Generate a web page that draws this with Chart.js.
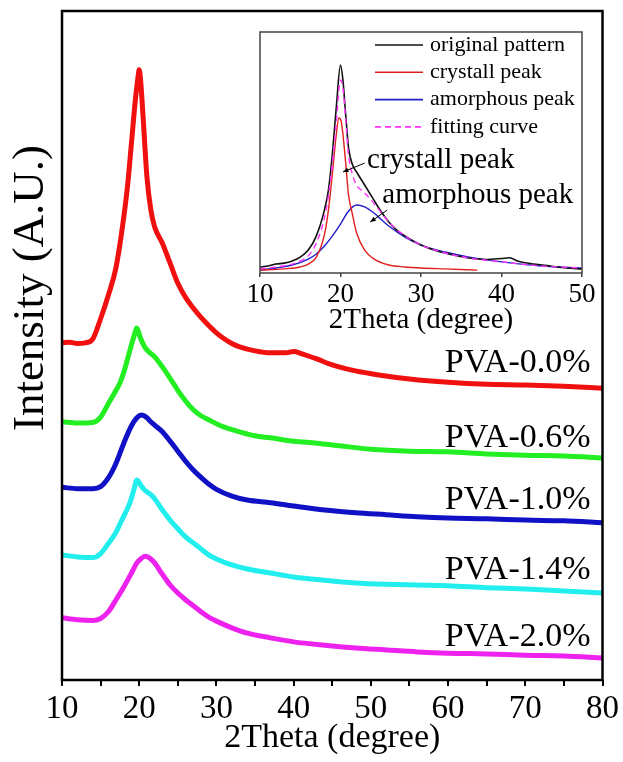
<!DOCTYPE html>
<html>
<head>
<meta charset="utf-8">
<script src="https://cdn.jsdelivr.net/npm/chart.js@4.4.1/dist/chart.umd.min.js"></script>
<style>
  html, body { margin: 0; padding: 0; background: #fff; }
  #wrap { position: relative; width: 623px; height: 762px; }
  #mainChart { position: absolute; left: 0; top: 0; }
  #insetChart { position: absolute; left: 200px; top: 0; }
</style>
</head>
<body>
<div id="wrap">
  <canvas id="mainChart" width="623" height="762"></canvas>
  <canvas id="insetChart" width="423" height="345"></canvas>
</div>
<script>
// main XRD patterns, [2theta, intensity a.u.] (curves already offset)
const pva00 = [[10,50.4],[11,50.5],[12,50.3],[13,50.4],[14,51.0],[15,54.0],[16,57.5],[17,61.7],[18,69.2],[18.5,74.0],[19,80.3],[19.5,86.7],[19.8,89.7],[20,91.2],[20.2,89.4],[20.5,84.2],[21,75.2],[21.5,70.3],[22,67.7],[23,65.3],[24,62.3],[25,59.3],[26,57.2],[27,55.6],[28,54.2],[29,53.0],[30,51.9],[31,51.0],[32,50.3],[33,49.8],[35,49.2],[37,48.9],[39,48.9],[40,49.1],[41,48.8],[43,48.0],[45,47.1],[48,46.2],[51,45.6],[55,45.0],[60,44.5],[65,44.2],[70,44.1],[75,43.9],[80,43.6]];
const pva06 = [[10,38.6],[12,38.4],[14,38.5],[15,39.3],[16,41.3],[17,43.3],[17.5,44.4],[18,46.0],[18.8,49.3],[19.3,51.3],[19.7,52.6],[20.1,51.3],[20.7,49.8],[21.3,49.0],[22,48.3],[23,46.8],[24,45.1],[25,43.3],[26,41.7],[27,40.4],[28,39.5],[29,38.9],[30,38.3],[31,37.8],[33,37.1],[35,36.5],[37,36.2],[40,35.7],[43,35.4],[46,35.0],[50,34.5],[55,34.2],[60,34.1],[65,33.8],[70,33.6],[75,33.5],[80,33.2]];
const pva10 = [[10,28.8],[12,28.6],[14,28.6],[15,28.9],[16,30.2],[17,32.4],[18,35.4],[19,38.0],[19.7,39.2],[20.3,39.6],[21,39.2],[21.5,38.6],[22,38.1],[23,37.1],[24,35.7],[25,34.2],[26,32.7],[27,31.4],[28,30.3],[29,29.3],[30,28.5],[32,27.5],[34,26.9],[37,26.5],[40,26.0],[44,25.4],[48,25.0],[52,24.7],[56,24.4],[60,24.2],[65,24.1],[70,23.9],[75,23.8],[80,23.5]];
const pva14 = [[10,18.7],[12,18.4],[14,18.3],[15,18.9],[16,20.4],[17,22.1],[17.5,23.3],[18,24.5],[18.8,26.5],[19.3,28.4],[19.7,29.9],[20.2,29.1],[20.7,28.4],[21.5,27.7],[22,27.1],[23,25.4],[24,23.9],[25,22.6],[26,21.4],[27,20.5],[28,19.6],[29,18.7],[30,18.1],[32,17.2],[34,16.6],[37,16.0],[40,15.4],[44,14.9],[48,14.5],[52,14.3],[56,14.2],[60,14.1],[65,13.8],[70,13.6],[75,13.3],[80,13.0]];
const pva20 = [[10,9.3],[12,9.0],[14,8.9],[15,9.2],[16,10.2],[17,12.0],[18,13.9],[19,16.0],[19.7,17.5],[20.3,18.2],[20.8,18.5],[21.5,18.1],[22,17.5],[23,15.8],[24,14.2],[25,13.0],[26,12.0],[27,11.1],[28,10.2],[29,9.4],[30,8.8],[32,7.8],[34,7.0],[37,6.3],[40,5.7],[44,5.2],[48,4.8],[52,4.5],[56,4.2],[60,4.0],[65,3.9],[70,3.7],[75,3.6],[80,3.3]];
const sampleNames = ['PVA-0.0%', 'PVA-0.6%', 'PVA-1.0%', 'PVA-1.4%', 'PVA-2.0%'];
const mainTicks = [10, 20, 30, 40, 50, 60, 70, 80];

// inset: peak fitting of PVA-0.0%
const origPattern = [[10,2.5],[11,2.9],[12,3.7],[13,4.1],[14,5.0],[15,6.6],[16,9.5],[17,15.4],[18,26.1],[18.5,34.4],[19,49.8],[19.5,69.7],[20,86.3],[20.3,80.1],[20.6,67.6],[21,51.9],[21.5,44.8],[22,41.9],[23,36.5],[24,31.1],[25,25.7],[26,21.2],[27,17.8],[28,15.4],[30,11.6],[32,9.1],[34,7.5],[36,6.2],[38,5.6],[40,6.0],[41,6.3],[42,5.0],[44,3.7],[46,2.9],[48,2.1],[50,1.7]];
const crystallPeak = [[10,1.2],[13,1.7],[15,2.5],[16,3.7],[17,6.6],[18,15.8],[18.5,26.1],[19,41.5],[19.5,58.1],[19.8,64.3],[20.1,62.7],[20.5,51.0],[21,32.4],[21.5,24.1],[22,16.6],[23,9.5],[24,6.2],[26,3.3],[28,2.5],[30,2.1],[33,1.7],[37,1.2]];
const amorphousPeak = [[10,1.2],[12,2.1],[14,3.3],[16,5.8],[17,7.9],[18,11.2],[19,15.4],[20,20.3],[21,25.7],[22,28.2],[23,27.4],[24,25.3],[25,22.4],[26,19.5],[28,14.9],[30,11.6],[33,8.7],[36,6.6],[40,4.6],[45,2.9],[50,2.1]];
const fittingCurve = [[10,1.7],[12,2.5],[14,3.7],[15,5.0],[16,7.1],[17,12.4],[18,22.8],[18.5,32.0],[19,45.6],[19.5,63.5],[20,80.1],[20.3,76.8],[20.6,65.6],[21,49.0],[21.5,40.7],[22,36.5],[23,33.2],[24,29.5],[25,25.3],[26,21.2],[28,15.4],[30,11.6],[33,8.3],[36,6.2],[40,4.6],[45,2.9],[50,2.1]];
const insetNames = ['original pattern', 'crystall peak', 'amorphous peak', 'fitting curve'];
const insetTicks = [10, 20, 30, 40, 50];

const serif = "'Liberation Serif', 'Times New Roman', serif";
Chart.defaults.font.family = serif;
Chart.defaults.color = '#000';

const toXY = arr => arr.map(p => ({ x: p[0], y: p[1] }));

const mainColors = ['#f01010', '#22ee22', '#1010c4', '#22eeee', '#ee22ee'];
const mainData = [pva00, pva06, pva10, pva14, pva20];

// frame, sample names and rotated y title for the main plot
const mainDecor = {
    id: 'mainDecor',
    afterDraw(chart) {
        const { ctx, chartArea: a, scales } = chart;
        ctx.save();
        ctx.strokeStyle = '#000';
        ctx.lineWidth = 2.5;
        ctx.strokeRect(a.left, a.top, a.right - a.left, a.bottom - a.top);

        ctx.fillStyle = '#000';
        ctx.font = '34px ' + serif;
        ctx.textAlign = 'right';
        ctx.textBaseline = 'middle';
        const labelY = [47.4, 36.2, 26.9, 16.4, 6.4];
        sampleNames.forEach((name, i) => {
            ctx.fillText(name, scales.x.getPixelForValue(78.45), scales.y.getPixelForValue(labelY[i]));
        });

        ctx.translate(31, 288);
        ctx.rotate(-Math.PI / 2);
        ctx.textAlign = 'center';
        ctx.font = '45px ' + serif;
        ctx.fillText('Intensity (A.U.)', 0, 0);
        ctx.restore();
    }
};

new Chart(document.getElementById('mainChart'), {
    type: 'line',
    data: {
        datasets: mainData.map((d, i) => ({
            label: sampleNames[i],
            data: toXY(d),
            borderColor: mainColors[i],
            borderWidth: 5,
            pointRadius: 0,
            cubicInterpolationMode: 'monotone',
            fill: false
        }))
    },
    options: {
        responsive: false,
        animation: false,
        layout: { padding: { top: 11, right: 18, bottom: 4, left: 0 } },
        plugins: { legend: { display: false }, tooltip: { enabled: false } },
        scales: {
            x: {
                type: 'linear', min: 10, max: 80,
                ticks: {
                    stepSize: 5, autoSkip: false, maxRotation: 0, padding: 4,
                    font: { size: 33 },
                    callback: v => mainTicks.includes(v) ? v : ''
                },
                grid: { drawOnChartArea: false, drawTicks: true, tickLength: 6, color: '#000', lineWidth: 2 },
                border: { display: false },
                title: { display: true, text: '2Theta (degree)', font: { size: 34 }, padding: { top: 0, bottom: 0 } },
                afterFit: s => { s.height = 78; }
            },
            y: {
                min: 0, max: 100,
                ticks: { display: false },
                grid: { display: false },
                border: { display: false },
                afterFit: s => { s.width = 62; }
            }
        }
    },
    plugins: [mainDecor]
});

// inset: frame, legend and the two arrow notes
const insetColors = ['#111111', '#e02020', '#1f1fc8', '#ff33ff'];
const insetData = [origPattern, crystallPeak, amorphousPeak, fittingCurve];

function arrow(ctx, x0, y0, x1, y1) {
    const ang = Math.atan2(y1 - y0, x1 - x0);
    ctx.beginPath();
    ctx.moveTo(x0, y0);
    ctx.lineTo(x1, y1);
    ctx.stroke();
    ctx.beginPath();
    ctx.moveTo(x1, y1);
    ctx.lineTo(x1 - 6 * Math.cos(ang - 0.4), y1 - 6 * Math.sin(ang - 0.4));
    ctx.lineTo(x1 - 6 * Math.cos(ang + 0.4), y1 - 6 * Math.sin(ang + 0.4));
    ctx.closePath();
    ctx.fill();
}

const insetDecor = {
    id: 'insetDecor',
    beforeDatasetsDraw(chart) {
        const { ctx, chartArea: a } = chart;
        ctx.save();
        ctx.fillStyle = '#fff';
        ctx.fillRect(a.left, a.top, a.right - a.left, a.bottom - a.top);
        ctx.restore();
    },
    afterDraw(chart) {
        const { ctx, chartArea: a, scales } = chart;
        const px = v => scales.x.getPixelForValue(v);
        const py = v => scales.y.getPixelForValue(v);
        ctx.save();
        ctx.strokeStyle = '#444';
        ctx.lineWidth = 1.5;
        ctx.strokeRect(a.left, a.top, a.right - a.left, a.bottom - a.top);

        // legend
        ctx.font = '22px ' + serif;
        ctx.textAlign = 'left';
        ctx.textBaseline = 'middle';
        chart.data.datasets.forEach((ds, i) => {
            const y = a.top + 13 + i * 27.3;
            const x0 = a.right - 207;
            ctx.strokeStyle = ds.borderColor;
            ctx.lineWidth = 1.6;
            ctx.setLineDash(ds.borderDash || []);
            ctx.beginPath();
            ctx.moveTo(x0, y);
            ctx.lineTo(x0 + 48, y);
            ctx.stroke();
            ctx.setLineDash([]);
            ctx.fillStyle = '#000';
            ctx.fillText(ds.label, x0 + 55, y);
        });

        // notes
        ctx.fillStyle = '#000';
        ctx.strokeStyle = '#000';
        ctx.lineWidth = 1;
        ctx.font = '29px ' + serif;
        ctx.fillText('crystall peak', px(23.3), py(46.9));
        ctx.fillText('amorphous peak', px(25.2), py(32.4));
        arrow(ctx, px(23.0), py(45.6), px(20.3), py(41.9));
        arrow(ctx, px(25.8), py(26.1), px(23.7), py(21.2));
        ctx.restore();
    }
};

new Chart(document.getElementById('insetChart'), {
    type: 'line',
    data: {
        datasets: insetData.map((d, i) => ({
            label: insetNames[i],
            data: toXY(d),
            borderColor: insetColors[i],
            borderWidth: i === 0 ? 1.6 : 1.4,
            borderDash: i === 3 ? [6, 4] : undefined,
            pointRadius: 0,
            cubicInterpolationMode: 'monotone',
            fill: false,
            order: i === 3 ? 0 : i + 1
        }))
    },
    options: {
        responsive: false,
        animation: false,
        layout: { padding: { top: 32, right: 41, bottom: 0, left: 0 } },
        plugins: { legend: { display: false }, tooltip: { enabled: false } },
        scales: {
            x: {
                type: 'linear', min: 10, max: 50,
                ticks: {
                    stepSize: 10, autoSkip: false, maxRotation: 0, padding: 2,
                    font: { size: 27 },
                    callback: v => insetTicks.includes(v) ? v : ''
                },
                grid: { drawOnChartArea: false, drawTicks: true, tickLength: 4, color: '#444', lineWidth: 1.5 },
                border: { display: false },
                title: { display: true, text: '2Theta (degree)', font: { size: 29 }, padding: { top: 0, bottom: 7 } },
                afterFit: s => { s.height = 72; }
            },
            y: {
                min: 0, max: 100,
                ticks: { display: false },
                grid: { display: false },
                border: { display: false },
                afterFit: s => { s.width = 60; }
            }
        }
    },
    plugins: [insetDecor]
});
</script>
</body>
</html>
